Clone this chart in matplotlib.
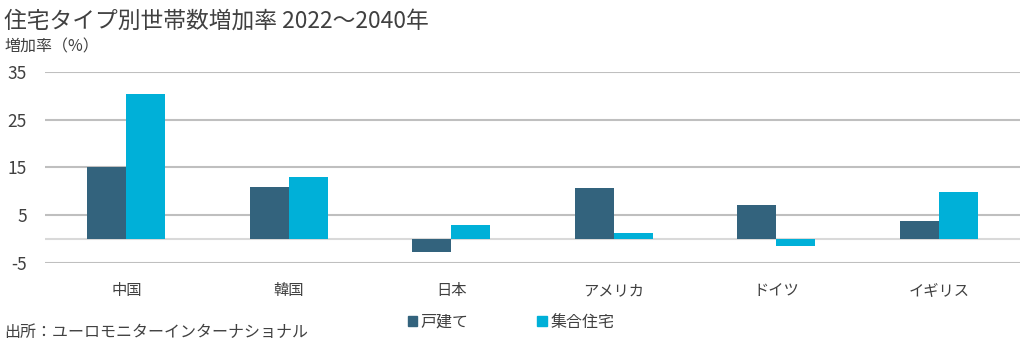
import matplotlib
matplotlib.use("Agg")
import matplotlib.pyplot as plt
import numpy as np

plt.rcParams['font.family'] = ['Noto Sans CJK JP', 'DejaVu Sans']

categories = ["中国", "韓国", "日本", "アメリカ", "ドイツ", "イギリス"]
detached = [15.2, 10.9, -2.8, 10.6, 7.1, 3.75]
apartment = [30.4, 12.9, 2.85, 1.25, -1.4, 9.9]
series_names = ["戸建て", "集合住宅"]
yticks = [35, 25, 15, 5, -5]

c_dark = "#33637d"
c_light = "#00b0d8"
txt = "#404040"

fig = plt.figure(figsize=(10.24, 3.5), dpi=100)
ax = fig.add_axes([0.044, 0.249, 0.952, 0.545])

x = np.arange(len(categories))
w = 0.24
ax.bar(x - w/2, detached, w, color=c_dark, zorder=3)
ax.bar(x + w/2, apartment, w, color=c_light, zorder=3)

ax.set_xlim(-0.5, len(categories) - 0.5)
ax.set_ylim(-5, 35)
ax.set_yticks(yticks)
ax.set_yticklabels([str(v) for v in yticks], fontsize=12.5, color=txt)
for v in yticks:
    ax.axhline(v, color="#bfbfbf", lw=1.5, zorder=1)
ax.axhline(0, color="#d9d9d9", lw=1.5, zorder=2)

ax.set_xticks(x)
ax.set_xticklabels(categories, fontsize=11, color=txt)
ax.tick_params(axis='both', length=0)
ax.tick_params(axis='y', pad=13)
ax.tick_params(axis='x', pad=14)
for s in ax.spines.values():
    s.set_visible(False)

fig.text(0.004, 0.94, "住宅タイプ別世帯数増加率 2022～2040年", fontsize=16.4, color=txt, va='center', ha='left')
fig.text(0.004, 0.866, "増加率（%）", fontsize=11.5, color=txt, va='center', ha='left')
fig.text(0.004, 0.05, "出所：ユーロモニターインターナショナル", fontsize=11.5, color=txt, va='center', ha='left')

handles = [plt.Rectangle((0, 0), 1, 1, color=c) for c in (c_dark, c_light)]
fig.legend(handles, series_names, loc='center', bbox_to_anchor=(0.499, 0.08), ncol=2,
           frameon=False, fontsize=11.5, handlelength=0.6, handleheight=0.6,
           handletextpad=0.2, columnspacing=4.3, labelcolor=txt)

fig.savefig("out.png", dpi=100)
